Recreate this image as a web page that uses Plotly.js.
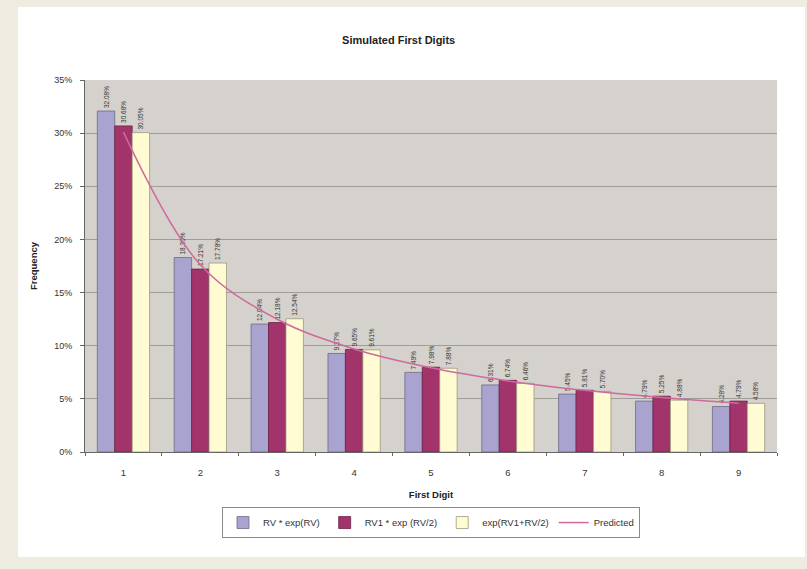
<!DOCTYPE html>
<html>
<head>
<meta charset="utf-8">
<script src="https://cdn.plot.ly/plotly-3.0.1.min.js"></script>
<style>
  html, body { margin:0; padding:0; background:#EEECE1; width:807px; height:569px; overflow:hidden; }
  #panel { position:absolute; left:18px; top:7px; width:787px; height:550px; background:#FFFFFF; }
  #chart { position:absolute; left:0; top:0; width:807px; height:569px; }
</style>
</head>
<body>
<div id="panel"></div>
<div id="chart"></div>
<script>
const digits = ['1','2','3','4','5','6','7','8','9'];
const seriesA = [32.08, 18.30, 12.04, 9.27, 7.49, 6.31, 5.45, 4.79, 4.28];   // RV * exp(RV)
const seriesB = [30.68, 17.21, 12.18, 9.65, 7.98, 6.74, 5.81, 5.25, 4.79];   // RV1 * exp (RV/2)
const seriesC = [30.05, 17.78, 12.54, 9.61, 7.88, 6.46, 5.70, 4.88, 4.58];   // exp(RV1+RV/2)
const predicted = [30.10, 17.61, 12.49, 9.69, 7.92, 6.69, 5.80, 5.12, 4.58];
const names = ['RV * exp(RV)', 'RV1 * exp (RV/2)', 'exp(RV1+RV/2)', 'Predicted'];
const yTicks = [0, 5, 10, 15, 20, 25, 30, 35];

const barCommon = {
  type: 'bar',
  x: digits,
  textposition: 'outside',
  textangle: -90,
  constraintext: 'none',
  cliponaxis: false,
  texttemplate: '%{y:.2f}%',
  textfont: { family: 'Arial, Liberation Sans, sans-serif', size: 6.5, color: '#333' },
  hoverinfo: 'skip'
};

const traces = [
  Object.assign({}, barCommon, { y: seriesA, name: names[0],
    marker: { color: '#A9A3CF', line: { color: '#6E6A88', width: 0.8 } } }),
  Object.assign({}, barCommon, { y: seriesB, name: names[1],
    marker: { color: '#A3336B', line: { color: '#6A2246', width: 0.8 } } }),
  Object.assign({}, barCommon, { y: seriesC, name: names[2],
    marker: { color: '#FFFBD2', line: { color: '#9A9880', width: 0.8 } } }),
  { type: 'scatter', mode: 'lines', x: digits, y: predicted, name: names[3],
    line: { color: '#D06A9E', width: 1.5, shape: 'spline', smoothing: 1 }, hoverinfo: 'skip' }
];

const font = { family: 'Arial, Liberation Sans, sans-serif', color: '#222' };

const layout = {
  width: 807, height: 569,
  paper_bgcolor: 'rgba(0,0,0,0)',
  plot_bgcolor: '#D5D1CC',
  margin: { l: 85, r: 30, t: 80, b: 117 },
  barmode: 'group',
  bargap: 0.32,
  bargroupgap: 0,
  showlegend: true,
  font: font,
  title: { text: '<b>Simulated First Digits</b>', font: { family: font.family, size: 11, color: '#222' },
           x: 0.494, xanchor: 'center', y: 1 - 40/569, yanchor: 'middle' },
  xaxis: {
    title: { text: '<b>First Digit</b>', font: { family: font.family, size: 9.5, color: '#222' }, standoff: 13 },
    type: 'category',
    showline: true, linecolor: '#666', linewidth: 1,
    ticks: 'outside', tickson: 'boundaries', ticklen: 3, tickcolor: '#666',
    ticklabelstandoff: 12,
    tickfont: { family: font.family, size: 9.5, color: '#333' },
    showgrid: false, zeroline: false, fixedrange: true
  },
  yaxis: {
    title: { text: '<b>Frequency</b>', font: { family: font.family, size: 9.5, color: '#222' }, standoff: 14 },
    range: [0, 35],
    tickvals: yTicks,
    ticktext: yTicks.map(v => v + '%'),
    showline: true, linecolor: '#666', linewidth: 1,
    ticks: 'outside', ticklen: 4, tickcolor: '#666',
    ticklabelstandoff: 6,
    tickfont: { family: font.family, size: 9, color: '#333' },
    showgrid: true, gridcolor: '#A09C97', gridwidth: 1,
    zeroline: false, fixedrange: true
  },
  legend: {
    orientation: 'h', x: 0.5, xanchor: 'center', y: -0.148, yanchor: 'top',
    bgcolor: '#FFFFFF', bordercolor: '#8A8A8A', borderwidth: 1,
    font: { family: font.family, size: 9.5, color: '#333' },
    itemwidth: 30, tracegroupgap: 0
  }
};

Plotly.newPlot('chart', traces, layout, { displayModeBar: false, staticPlot: true });
</script>
</body>
</html>
